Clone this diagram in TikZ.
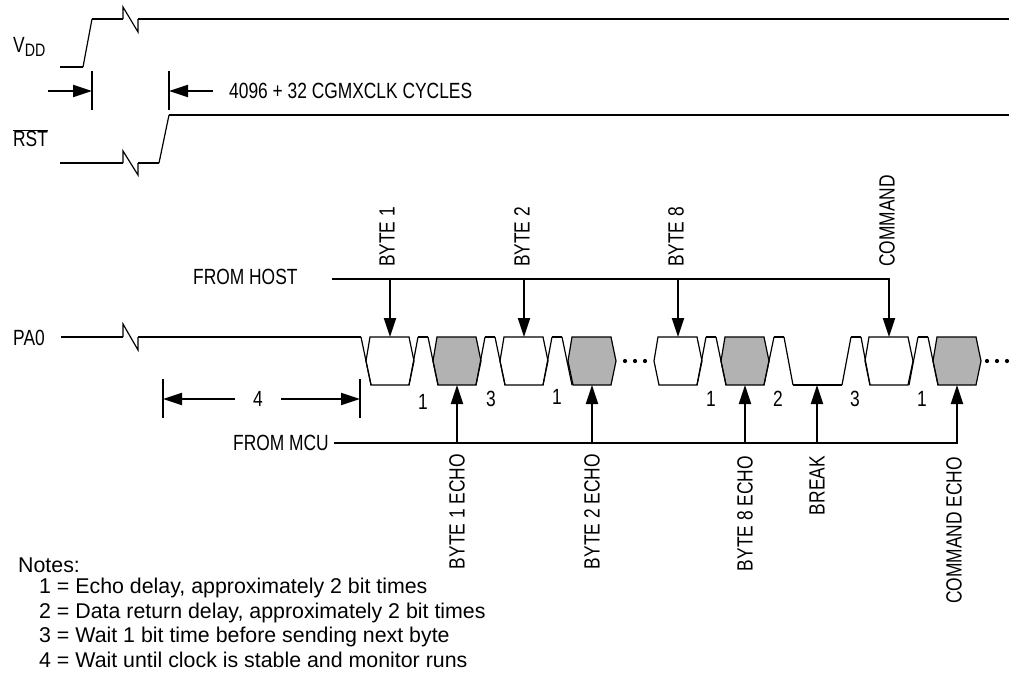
\documentclass[tikz,border=0pt]{standalone}
\usepackage{fontspec}
\setmainfont{Liberation Sans}
\newfontfamily\condfont[FakeStretch=0.79]{Liberation Sans}
\usepackage{tikz}
\usetikzlibrary{arrows.meta, positioning, calc}

\begin{document}
\begin{tikzpicture}[
  x=1pt, y=-1pt, >={Stealth[inset=0pt,length=19pt,width=12pt]},
  font=\condfont\fontsize{22}{24}\selectfont,
  wave/.style={line width=1.9pt, line join=miter},
  edge/.style={line width=1.2pt},
  bus/.style={line width=1.9pt},
  tick/.style={line width=1.9pt},
  lbl/.style={inner sep=0pt, anchor=center},
  up/.style={inner sep=0pt, rotate=90, anchor=west},
  down/.style={inner sep=0pt, rotate=90, anchor=east},
  note/.style={inner sep=0pt, anchor=base west, font=\rmfamily\fontsize{21.35}{24}\selectfont},
  dot/.style={circle, fill=black, inner sep=0pt, minimum size=4.2pt}]
  \useasboundingbox (0,0) rectangle (1013,675);

  % supply and reset traces
  \node[lbl, anchor=west] (vdd) at (13,47) {V\raisebox{-0.35ex}{\fontsize{18}{18}\selectfont DD}};
  \draw[wave] (60,67) -- (83,67);
  \draw[edge] (83,67) -- (92,19);
  \draw[wave] (92,19) -- (123,19);
  \draw[edge] (123,19) -- (123,7) -- (138,32) -- (138,19);
  \draw[wave] (138,19) -- (1009,19);

  \node[lbl, anchor=west] (rst) at (13,138) {$\overline{\hbox{RST}}$};
  \draw[wave] (60,163) -- (123,163);
  \draw[edge] (123,163) -- (123,151) -- (138,175) -- (138,163);
  \draw[wave] (138,163) -- (159,163);
  \draw[edge] (159,163) -- (169,115);
  \draw[wave] (169,115) -- (1009,115);

  % reset delay
  \coordinate (dl) at (92,91);
  \coordinate (dr) at (169,91);
  \coordinate (dlo) at (48,91);
  \coordinate (dro) at (213,91);
  \draw[tick] (92,71) -- (92,110);
  \draw[tick] (169,71) -- (169,110);
  \draw[bus, ->] (dlo) -- (dl);
  \draw[bus, ->] (dro) -- (dr);
  \node[lbl, anchor=west] (cycles) at (229,91) {4096 + 32 CGMXCLK CYCLES};

  % PA0 idle, then the bytes
  \node[lbl, anchor=west] (pa0) at (13,338) {PA0};
  \draw[wave] (61,337) -- (123,337);
  \draw[edge] (123,337) -- (123,324) -- (138,350) -- (138,337);
  \draw[wave] (138,337) -- (361,337);
  \foreach \x/\f/\n in {370/white/a, 437/black!30/b, 504/white/c, 572/black!30/d,
                        658/white/e, 725/black!30/f, 869/white/g, 937/black!30/h} {
    \draw[edge, fill=\f] (\x,337) -- (\x+39,337) -- (\x+44,361) -- (\x+39,385)
      -- (\x+1,385) -- (\x-4,361) -- cycle;
    \coordinate (t\n) at (\x+20,337);
    \coordinate (b\n) at (\x+20,385);
  }
  % gaps between the bytes
  \foreach \x in {409,476,543,697,909} {
    \draw[edge] (\x,385) -- (\x+9,337);
    \draw[wave] (\x+9,337) -- (\x+19,337);
    \draw[edge] (\x+19,337) -- (\x+29,385);
  }
  \draw[edge] (361,337) -- (371,385);
  \draw[edge] (764,385) -- (774,337);
  \draw[wave] (774,337) -- (784,337);
  \draw[edge] (784,337) -- (793,385);
  \draw[wave] (793,385) -- (842,385);
  \draw[edge] (842,385) -- (851,337);
  \draw[wave] (851,337) -- (861,337);
  \draw[edge] (861,337) -- (870,385);
  \foreach \x in {625,635,645,987,997,1007} \node[dot] at (\x,361) {};

  % wait until stable
  \draw[tick] (163,379) -- (163,418);
  \draw[tick] (360,379) -- (360,418);
  \node[lbl] (four) at (258,399) {4};
  \coordinate (fl) at (163,399);
  \coordinate (fr) at (360,399);
  \draw[bus, ->] (235,399) -- (fl);
  \draw[bus, ->] (281,399) -- (fr);

  % delay numbers
  \foreach \x/\y/\t in {423/402/1, 491/399/3, 557/397/1, 711/399/1, 778/399/2, 855/399/3, 922/399/1}
    \node[lbl] at (\x,\y) {\t};

  % from host
  \node[lbl, anchor=west] (host) at (193,277) {FROM HOST};
  \draw[bus] (332,279) -- (890,279);
  \foreach \x/\t in {390/ta, 524/tc, 678/te, 889/tg}
    \draw[bus, ->] (\x,278) -- (\t);
  \node[up] (b1) at (387,267) {BYTE 1};
  \node[up] (b2) at (522,267) {BYTE 2};
  \node[up] (b8) at (676,267) {BYTE 8};
  \node[up] (cmd) at (887,267) {COMMAND};

  % from mcu
  \node[lbl, anchor=east] (mcu) at (329,443) {FROM MCU};
  \draw[bus] (334,443) -- (957,443);
  \foreach \x/\t in {457/bb, 592/bd, 745/bf, 957/bh}
    \draw[bus, ->] (\x,444) -- (\t);
  \coordinate (brk) at (817,385);
  \draw[bus, ->] (817,444) -- (brk);
  \node[down] (e1) at (457,454) {BYTE 1 ECHO};
  \node[down] (e2) at (592,454) {BYTE 2 ECHO};
  \node[down] (e8) at (745,456) {BYTE 8 ECHO};
  \node[down] (eb) at (817,456) {BREAK};
  \node[down] (ec) at (954,457) {COMMAND ECHO};

  % notes
  \node[note] (n0) at (18,572) {Notes:};
  \node[note] (n1) at (39,593) {1 = Echo delay, approximately 2 bit times};
  \node[note] (n2) at (39,618) {2 = Data return delay, approximately 2 bit times};
  \node[note] (n3) at (39,642) {3 = Wait 1 bit time before sending next byte};
  \node[note] (n4) at (39,667) {4 = Wait until clock is stable and monitor runs};
\end{tikzpicture}
\end{document}
